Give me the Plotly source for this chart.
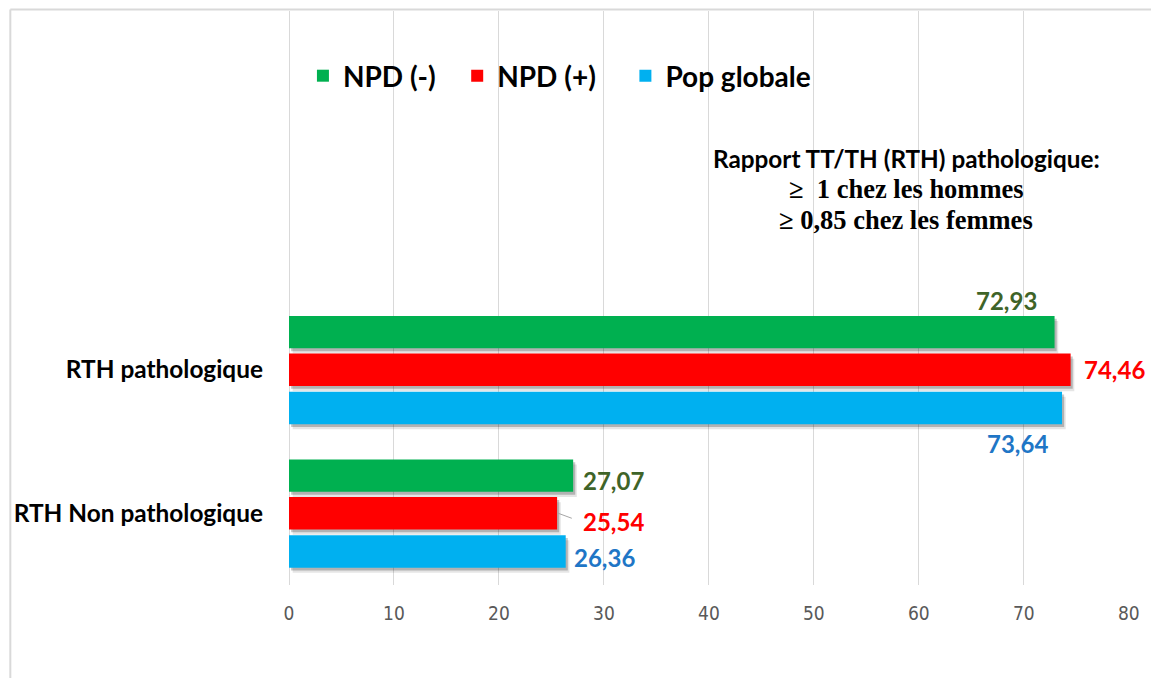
import plotly.graph_objects as go

# Categories (bottom to top) and series values (%)
categories = ["RTH Non pathologique", "RTH pathologique"]
npd_neg = [27.07, 72.93]
npd_pos = [25.54, 74.46]
pop_globale = [26.36, 73.64]
x_ticks = [0, 10, 20, 30, 40, 50, 60, 70, 80]

series = [
    # name, values, bar colour, label colour, offset of the bar centre (category units), legend
    ("NPD (-)", npd_neg, "#00B050", "#3F6428", 0.262, "legend"),
    ("NPD (+)", npd_pos, "#FF0000", "#FF0000", 0.0, "legend2"),
    ("Pop globale", pop_globale, "#00B0F0", "#1F76C6", -0.266, "legend3"),
]
bar_w = 0.226
ypos = list(range(len(categories)))

fig = go.Figure()

# soft drop shadows under the bars
for name, vals, col, lcol, off, leg in series:
    for alpha, dy, dx in [(0.10, 0.036, 0.35), (0.22, 0.02, 0.2)]:
        fig.add_trace(go.Bar(
            y=ypos, x=vals, base=dx, orientation="h",
            width=bar_w, offset=off - bar_w / 2 - dy,
            marker=dict(color=f"rgba(0,0,0,{alpha})", line=dict(width=0)),
            showlegend=False, hoverinfo="skip",
        ))

# the bars themselves
for name, vals, col, lcol, off, leg in series:
    fig.add_trace(go.Bar(
        y=ypos, x=vals, orientation="h", name=name, legend=leg,
        width=bar_w, offset=off - bar_w / 2,
        marker=dict(color=col, line=dict(width=0)),
    ))

# value labels: (series index, category index) -> pixel shift of the label
label_shift = {
    (0, 1): dict(xanchor="right", xshift=-16, yshift=32),
    (1, 1): dict(xanchor="left", xshift=11, yshift=0),
    (2, 1): dict(xanchor="right", xshift=-12, yshift=-36),
    (0, 0): dict(xanchor="left", xshift=8, yshift=-5),
    (1, 0): dict(xanchor="left", xshift=24, yshift=-8),
    (2, 0): dict(xanchor="left", xshift=6, yshift=-6),
}
for si, (name, vals, col, lcol, off, leg) in enumerate(series):
    for ci, v in enumerate(vals):
        fig.add_annotation(
            x=v, y=ci + off, text="<b>" + f"{v:.2f}".replace(".", ",") + "</b>",
            showarrow=False, yanchor="middle",
            font=dict(family="Lato", size=24, color=lcol),
            **label_shift[(si, ci)],
        )

# leader line of the "NPD (+)" label on the lower category
fig.add_shape(type="line", xref="x", yref="y",
              x0=npd_pos[0] + 0.1, y0=0.0, x1=npd_pos[0] + 1.4, y1=-0.035,
              line=dict(color="#A6A6A6", width=1))

# definition note
note = [
    ("<b>Rapport TT/TH (RTH) pathologique:</b>", "Lato", 24.3, 158),
    ("<b>≥  1 chez les hommes</b>", "Liberation Serif", 26.5, 189),
    ("<b>≥ 0,85 chez les femmes</b>", "Liberation Serif", 26.5, 220),
]
for txt, fam, sz, py in note:
    fig.add_annotation(
        xref="paper", yref="paper", x=(909 - 289) / 844, y=(585 - py) / 574,
        text=txt, showarrow=False, xanchor="center", yanchor="middle",
        font=dict(family=fam, size=sz, color="#000000"),
    )

# outer chart frame (left and top edges)
fig.add_shape(type="line", xref="paper", yref="paper",
              x0=(9 - 289) / 844, x1=(1160 - 289) / 844,
              y0=(585 - 9.5) / 574, y1=(585 - 9.5) / 574,
              line=dict(color="#D9D9D9", width=2))
fig.add_shape(type="line", xref="paper", yref="paper",
              x0=(9 - 289) / 844, x1=(9 - 289) / 844,
              y0=(585 - 9.5) / 574, y1=(585 - 678) / 574,
              line=dict(color="#D9D9D9", width=2))


def legend_at(px):
    return dict(
        orientation="h", x=(px - 289) / 844, y=(585 - 76) / 574,
        xanchor="left", yanchor="middle",
        bgcolor="rgba(0,0,0,0)",
        font=dict(family="Lato", size=28, color="#000000", weight="bold"),
    )


fig.update_layout(
    width=1151, height=678,
    margin=dict(l=289, r=18, t=11, b=93),
    paper_bgcolor="white", plot_bgcolor="white",
    barmode="overlay",
    showlegend=True,
    legend=legend_at(303),
    legend2=legend_at(458),
    legend3=legend_at(627),
    xaxis=dict(
        range=[0, 80.02], tickvals=x_ticks, ticktext=[str(t) for t in x_ticks],
        showgrid=True, gridcolor="#D9D9D9", gridwidth=1,
        zeroline=True, zerolinecolor="#D9D9D9", zerolinewidth=1,
        showline=False, ticks="",
        tickfont=dict(family="DejaVu Sans Condensed, Roboto Condensed, Roboto",
                      size=19, color="#595959"),
        ticklabelstandoff=15,
    ),
    yaxis=dict(
        range=[-0.5, 3.5], tickvals=ypos, ticktext=categories,
        showgrid=False, zeroline=False, showline=False, ticks="",
        tickfont=dict(family="Lato", size=24.4, color="#000000", weight="bold"),
        ticklabelstandoff=25,
    ),
)

fig.write_html("out.html")
